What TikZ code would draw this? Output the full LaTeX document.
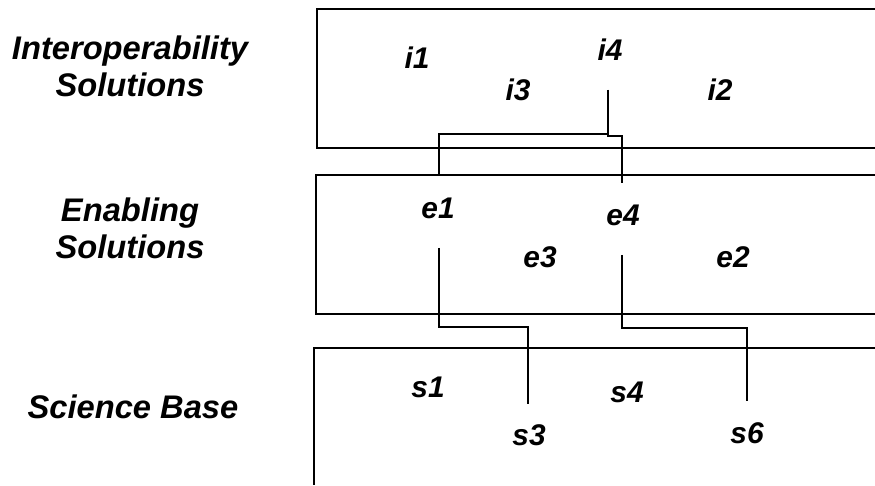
\documentclass[tikz,border=0pt]{standalone}
\usepackage{fontspec}
\setmainfont{Liberation Sans}
\usetikzlibrary{calc}
\tikzset{
  layer/.style={draw=black, line width=1.1pt},
  link/.style={draw=black, line width=1.1pt},
  head/.style={font=\fontsize{18.6}{21}\selectfont\bfseries\itshape, align=center},
  lab/.style={font=\fontsize{17}{19}\selectfont\bfseries\itshape}
}

\begin{document}
\begin{tikzpicture}
  \useasboundingbox (0,0) rectangle (17.5,9.7);

  % three layers, open at the right (and bottom) edge
  \draw[layer] (17.5,9.52) -- (6.34,9.52) -- (6.34,6.74) -- (17.5,6.74);
  \draw[layer] (17.5,6.2) -- (6.32,6.2) -- (6.32,3.42) -- (17.5,3.42);
  \draw[layer] (17.5,2.74) -- (6.28,2.74) -- (6.28,0);

  \node[head] (hinter) at (2.6,8.37) {Interoperability\\Solutions};
  \node[head] (henable) at (2.6,5.14) {Enabling\\Solutions};
  \node[head] (hsci) at (2.66,1.56) {Science Base};

  \node[lab] (i1) at (8.34,8.54) {i1};
  \node[lab] (i4) at (12.2,8.7) {i4};
  \node[lab] (i3) at (10.36,7.9) {i3};
  \node[lab] (i2) at (14.4,7.9) {i2};

  \node[lab] (e1) at (8.76,5.54) {e1};
  \node[lab] (e4) at (12.46,5.4) {e4};
  \node[lab] (e3) at (10.8,4.56) {e3};
  \node[lab] (e2) at (14.66,4.56) {e2};

  \node[lab] (s1) at (8.56,1.96) {s1};
  \node[lab] (s4) at (12.54,1.86) {s4};
  \node[lab] (s3) at (10.58,1.0) {s3};
  \node[lab] (s6) at (14.94,1.04) {s6};

  % links between layers
  \draw[link] ($(i4)+(-0.04,-0.8)$) -- ++(0,-0.88) -| ($(e1)+(0.02,0.66)$);
  \draw[link] ($(i4)+(-0.04,-0.8)$) -- ++(0,-0.92) -| ($(e4)+(-0.02,0.64)$);
  \draw[link] ($(e1)+(0.02,-0.8)$) -- ++(0,-1.58) -| ($(s3)+(-0.02,0.62)$);
  \draw[link] ($(e4)+(-0.02,-0.8)$) -- ++(0,-1.46) -| ($(s6)+(0,0.64)$);
\end{tikzpicture}
\end{document}
